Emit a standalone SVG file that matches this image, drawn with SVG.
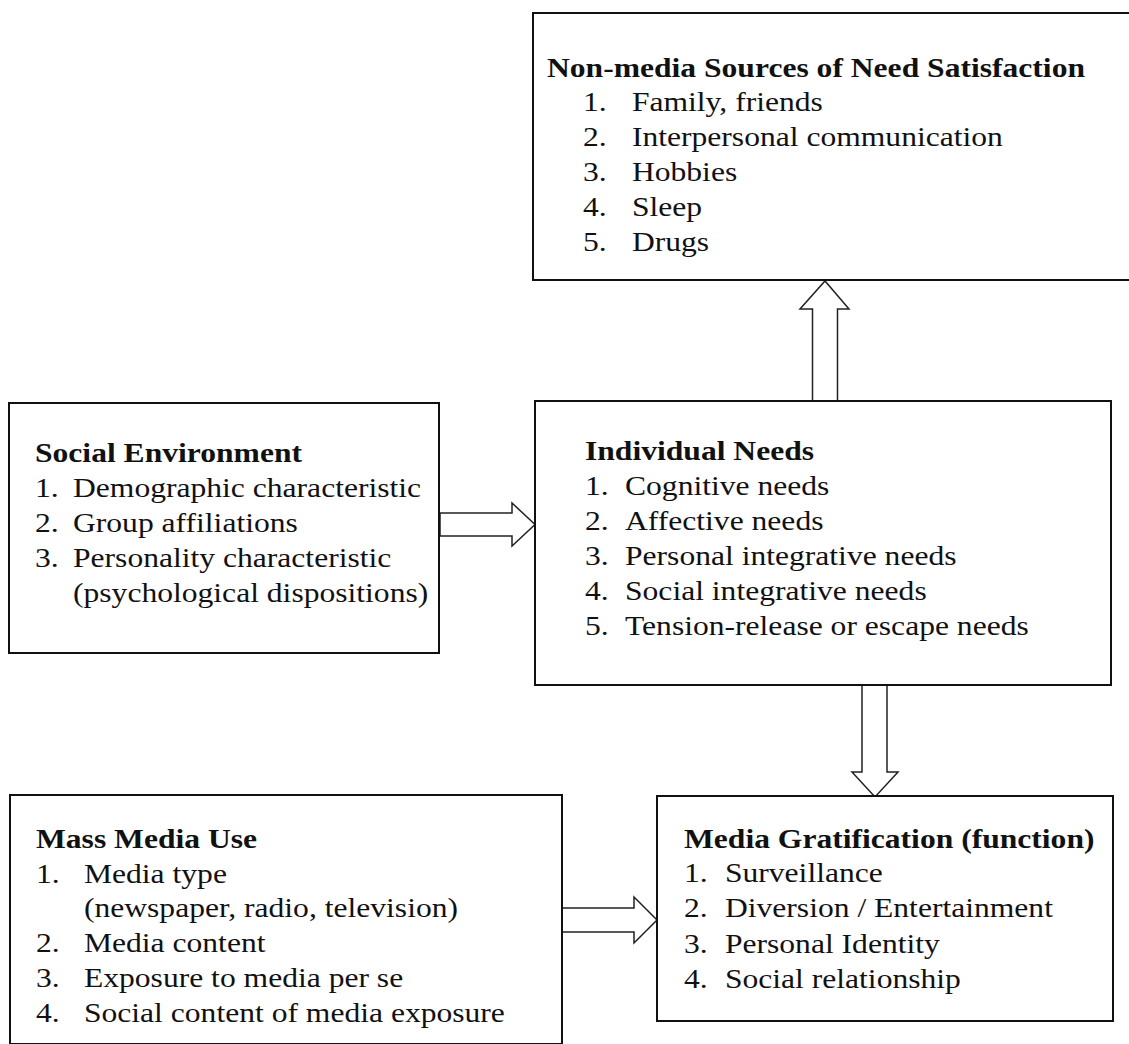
<svg xmlns="http://www.w3.org/2000/svg" width="1129" height="1044" viewBox="0 0 1129 1044">
  <style>
    .box { fill: #ffffff; stroke: #111111; stroke-width: 2; }
    .arrow { fill: #ffffff; stroke: #222222; stroke-width: 1.5; stroke-linejoin: miter; }
    text { font-family: "Liberation Serif", "Times New Roman", serif; font-size: 27px; fill: #111111; }
    .title { font-weight: bold; }
  </style>
  <rect width="1129" height="1044" fill="#ffffff"/>

  <g id="connectors">
    <polygon class="arrow" points="812.5,401 812.5,309 800,309 825,281 849,309 837.5,309 837.5,401"/>
    <polygon class="arrow" points="440,513 512,513 512,503 535,524.5 512,546 512,536 440,536"/>
    <polygon class="arrow" points="862,685 862,772 852,772 875,797 898,772 887,772 887,685"/>
    <polygon class="arrow" points="562,908 634,908 634,897 657,920 634,943 634,932 562,932"/>
  </g>

  <g id="node-nonmedia">
    <rect class="box" x="533" y="13" width="620" height="267"/>
    <g transform="translate(547 0) scale(1.17 1)">
      <text class="title" x="0" y="77">Non-media Sources of Need Satisfaction</text>
      <text x="30.8" y="111">1.</text><text x="72.6" y="111">Family, friends</text>
      <text x="30.8" y="146">2.</text><text x="72.6" y="146">Interpersonal communication</text>
      <text x="30.8" y="181">3.</text><text x="72.6" y="181">Hobbies</text>
      <text x="30.8" y="216">4.</text><text x="72.6" y="216">Sleep</text>
      <text x="30.8" y="251">5.</text><text x="72.6" y="251">Drugs</text>
    </g>
  </g>

  <g id="node-social">
    <rect class="box" x="9" y="403" width="430" height="250"/>
    <g transform="translate(35 0) scale(1.17 1)">
      <text class="title" x="0" y="462">Social Environment</text>
      <text x="0" y="497">1.</text><text x="32.5" y="497">Demographic characteristic</text>
      <text x="0" y="532">2.</text><text x="32.5" y="532">Group affiliations</text>
      <text x="0" y="567">3.</text><text x="32.5" y="567">Personality characteristic</text>
      <text x="32.5" y="602">(psychological dispositions)</text>
    </g>
  </g>

  <g id="node-individual">
    <rect class="box" x="535" y="401" width="576" height="284"/>
    <g transform="translate(585 0) scale(1.17 1)">
      <text class="title" x="0" y="460">Individual Needs</text>
      <text x="0" y="495">1.</text><text x="34.2" y="495">Cognitive needs</text>
      <text x="0" y="530">2.</text><text x="34.2" y="530">Affective needs</text>
      <text x="0" y="565">3.</text><text x="34.2" y="565">Personal integrative needs</text>
      <text x="0" y="600">4.</text><text x="34.2" y="600">Social integrative needs</text>
      <text x="0" y="635">5.</text><text x="34.2" y="635">Tension-release or escape needs</text>
    </g>
  </g>

  <g id="node-massmedia">
    <rect class="box" x="10" y="795" width="552" height="249"/>
    <g transform="translate(36 0) scale(1.17 1)">
      <text class="title" x="0" y="848">Mass Media Use</text>
      <text x="0" y="883">1.</text><text x="41" y="883">Media type</text>
      <text x="41" y="917">(newspaper, radio, television)</text>
      <text x="0" y="952">2.</text><text x="41" y="952">Media content</text>
      <text x="0" y="987">3.</text><text x="41" y="987">Exposure to media per se</text>
      <text x="0" y="1022">4.</text><text x="41" y="1022">Social content of media exposure</text>
    </g>
  </g>

  <g id="node-gratification">
    <rect class="box" x="657" y="796" width="456" height="225"/>
    <g transform="translate(684 0) scale(1.17 1)">
      <text class="title" x="0" y="848">Media Gratification (function)</text>
      <text x="0" y="882">1.</text><text x="35" y="882">Surveillance</text>
      <text x="0" y="917">2.</text><text x="35" y="917">Diversion / Entertainment</text>
      <text x="0" y="953">3.</text><text x="35" y="953">Personal Identity</text>
      <text x="0" y="988">4.</text><text x="35" y="988">Social relationship</text>
    </g>
  </g>
</svg>
